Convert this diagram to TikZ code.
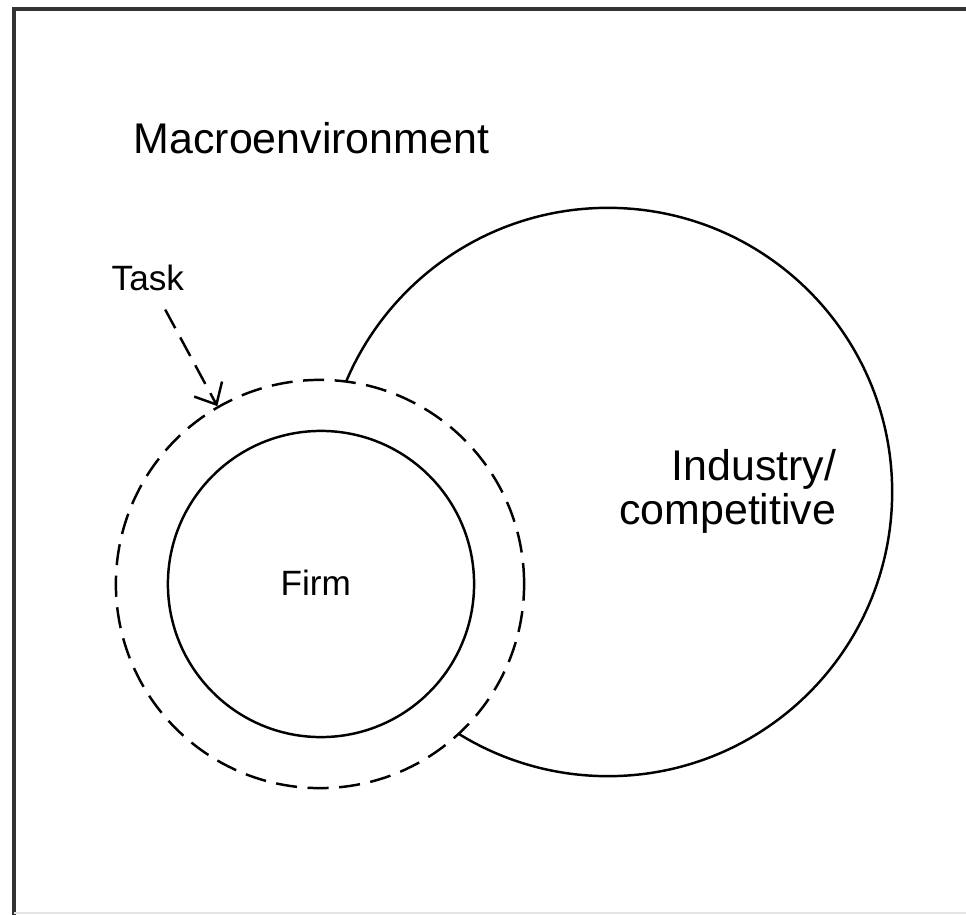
\documentclass[tikz,border=0pt]{standalone}
\usepackage{fontspec}
\setmainfont{Liberation Sans}
\usetikzlibrary{arrows.meta}
\begin{document}
\begin{tikzpicture}[x=.01cm,y=-.01cm,>={Straight Barb[length=5pt,width=9pt]},
    ring/.style={circle,draw,line width=.7pt,inner sep=0pt},
    dashring/.style={ring,dash pattern=on 6pt off 3pt},
    bigfont/.style={font=\fontsize{12.2}{12.4}\selectfont},
    smallfont/.style={font=\fontsize{10}{12}\selectfont}]
    \useasboundingbox (0,0) rectangle (966,915);
    \draw[line width=1.1pt,black!80](14,915)--(14,9)--(966,9);
    \draw[black!10](14,913)--(966,913);
    \node[bigfont,anchor=base west,inner sep=0pt] (macro) at (133,153) {Macroenvironment};
    \node[ring,minimum size=5.68cm] (industry) at (608,492) {};
    \node[dashring,fill=white,minimum size=4.08cm] (taskring) at (320,584) {};
    \node[ring,minimum size=3.06cm] (firm) at (321,584) {};
    \node[smallfont,anchor=base west,inner sep=0pt] at (280,595) {Firm};
    \node[smallfont,anchor=base west,inner sep=0pt] (task) at (111,290) {Task};
    \node[bigfont,align=right,anchor=north east,inner sep=0pt] (ind) at (837,449) {Industry/\\competitive};
    \draw[->,line width=.7pt,dash pattern=on 6pt off 3pt,shorten <=6pt](task)--(taskring.120);
\end{tikzpicture}
\end{document}
